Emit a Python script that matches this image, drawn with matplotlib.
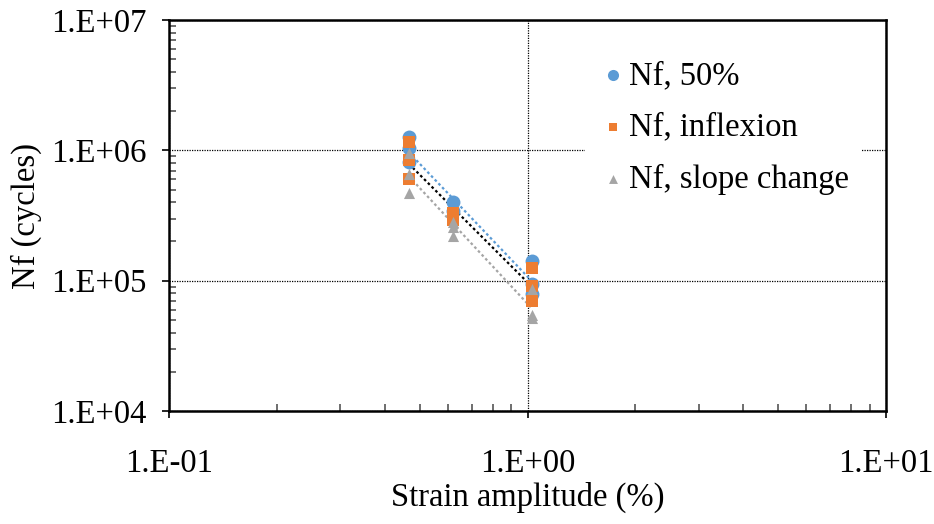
import numpy as np
import matplotlib
matplotlib.use("Agg")
import matplotlib.pyplot as plt
from matplotlib.ticker import LogLocator, FuncFormatter, NullFormatter

plt.rcParams['font.family'] = ['Liberation Serif', 'DejaVu Serif']

# strain amplitude (%) and cycles to failure
x_50 = [0.467, 0.467, 0.467, 0.62, 0.62, 1.03, 1.03, 1.03]
nf_50 = [1.26e6, 1.04e6, 8.1e5, 4.0e5, 3.45e5, 1.41e5, 9.5e4, 7.9e4]

x_inf = [0.467, 0.467, 0.467, 0.62, 0.62, 1.03, 1.03, 1.03]
nf_inf = [1.16e6, 8.5e5, 6.0e5, 3.3e5, 2.9e5, 1.26e5, 9.1e4, 7.0e4]

x_slope = [0.467, 0.467, 0.467, 0.62, 0.62, 0.62, 1.03, 1.03, 1.03]
nf_slope = [9.5e5, 6.6e5, 4.7e5, 2.8e5, 2.57e5, 2.2e5, 8.7e4, 5.5e4, 5.2e4]

labels = ['Nf, 50%', 'Nf, inflexion', 'Nf, slope change']
colors = ['#5B9BD5', '#ED7D31', '#A5A5A5']
trend_colors = ['#5B9BD5', 'black', '#A5A5A5']
markers = ['o', 's', '^']
sizes = [100, 64, 64]

fig = plt.figure(figsize=(9.34, 5.24), dpi=100)
ax = fig.add_axes([0.181, 0.2156, 0.7676, 0.7462])

series = [(x_50, nf_50), (x_inf, nf_inf), (x_slope, nf_slope)]
for (xs, ys), lab, c, tc, m, s in zip(series, labels, colors, trend_colors, markers, sizes):
    ax.scatter(xs, ys, s=s, marker=m, color=c, label=lab, zorder=3, linewidths=0)
    # power trendline
    k, b = np.polyfit(np.log10(xs), np.log10(ys), 1)
    xx = np.array([min(xs), max(xs)])
    ax.plot(xx, 10 ** (b + k * np.log10(xx)), linestyle=(0, (1.2, 1.2)), color=tc, lw=1.6, zorder=2)

ax.set_xscale('log')
ax.set_yscale('log')
ax.set_xlim(0.1, 10)
ax.set_ylim(1e4, 1e7)

fmt = FuncFormatter(lambda v, p: "1.E%+03d" % int(round(np.log10(v))))
ax.xaxis.set_major_locator(LogLocator(base=10, numticks=10))
ax.yaxis.set_major_locator(LogLocator(base=10, numticks=10))
ax.xaxis.set_major_formatter(fmt)
ax.yaxis.set_major_formatter(fmt)
ax.xaxis.set_minor_locator(LogLocator(base=10, subs=np.arange(2, 10), numticks=10))
ax.yaxis.set_minor_locator(LogLocator(base=10, subs=np.arange(2, 10), numticks=10))
ax.xaxis.set_minor_formatter(NullFormatter())
ax.yaxis.set_minor_formatter(NullFormatter())

ax.tick_params(which='major', direction='out', length=5, width=1.2, labelsize=23.5)
ax.tick_params(axis='x', which='major', pad=22)
ax.tick_params(axis='y', which='major', pad=11)
ax.tick_params(which='minor', direction='in', length=5, width=1.2, color='#555555')

ax.grid(True, which='major', color='black', linestyle=(0, (1, 1)), lw=0.9, zorder=1)

for sp in ax.spines.values():
    sp.set_linewidth(1.8)
    sp.set_color('black')

ax.set_xlabel('Strain amplitude (%)', fontsize=23.5, labelpad=2)
ax.set_ylabel('Nf (cycles)', fontsize=23.5, labelpad=7)

leg = ax.legend(loc='upper left', bbox_to_anchor=(0.58, 0.93), fontsize=23.5,
                frameon=True, framealpha=1, edgecolor='none', handletextpad=0.05,
                labelspacing=0.65, borderpad=0.4, handlelength=0.9, markerscale=0.8,
                borderaxespad=0)
leg.set_zorder(5)

fig.savefig('out.png', dpi=100)
